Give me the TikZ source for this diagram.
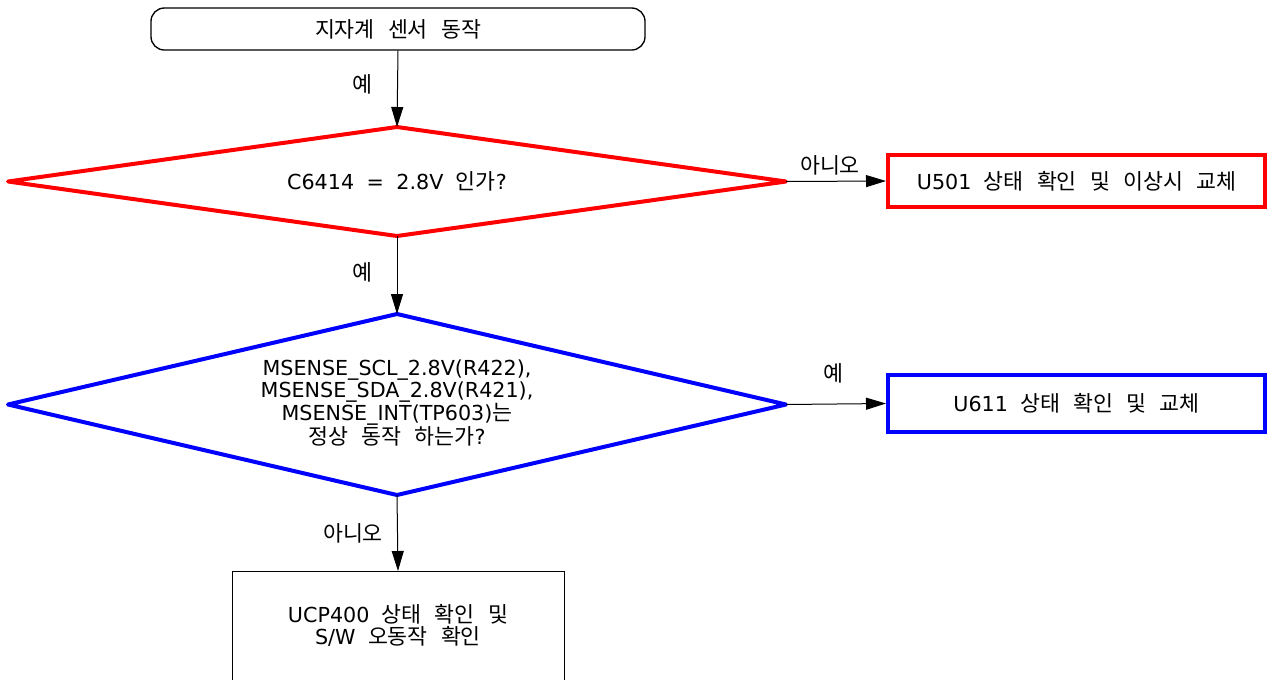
\documentclass[tikz,border=0pt]{standalone}
\usepackage{fontspec}
\setmainfont{DejaVu Sans}[WordSpace=1.9]
\newfontfamily\krfont{Noto Sans CJK KR}[Scale=1.05,WordSpace=2.7]
\usetikzlibrary{arrows.meta}
\definecolor{redline}{RGB}{255,0,0}
\definecolor{blueline}{RGB}{0,0,255}
\begin{document}
\begin{tikzpicture}[x=0.75pt,y=-0.75pt,
  every node/.style={font=\fontsize{15.5}{16.5}\selectfont, text=black, align=center},
  term/.style={draw, line width=1pt, rounded corners=10pt, minimum width=370.5pt, minimum height=31.5pt, inner sep=0},
  diaedge/.style={line width=3pt, line join=round},
  procbox/.style={draw, line width=3pt, minimum width=282.75pt, inner sep=0},
  plainbox/.style={draw, line width=0.75pt, minimum width=249pt, minimum height=90pt, inner sep=0},
  arr/.style={line width=0.75pt, -{Triangle[length=15pt,width=9pt]}},
  lbl/.style={inner sep=0, font=\fontsize{15.5}{16.5}\krfont}
]
\useasboundingbox (0,0) rectangle (1268,679);
\clip (0,0) rectangle (1268,679);

% start terminal
\node[term] (start) at (398,29) {\krfont 지자계 센서 동작};

% red decision
\coordinate (d1n) at (397,127);
\coordinate (d1e) at (786,181.5);
\coordinate (d1s) at (397,236);
\coordinate (d1w) at (8,181.5);
\draw[diaedge, draw=redline] (d1n) -- (d1e) -- (d1s) -- (d1w) -- cycle;
\node (d1) at (397,181.5) {C6414 = 2.8V {\krfont 인가}?};

\node[procbox, draw=redline, minimum height=39pt] (u501) at (1076.5,181) {U501 {\krfont 상태 확인 및 이상시 교체}};

% blue decision
\coordinate (d2n) at (397,314);
\coordinate (d2e) at (786,404.5);
\coordinate (d2s) at (397,495);
\coordinate (d2w) at (8,404.5);
\draw[diaedge, draw=blueline] (d2n) -- (d2e) -- (d2s) -- (d2w) -- cycle;
\node (d2) at (397,403) {MSENSE\_SCL\_2.8V(R422),\\MSENSE\_SDA\_2.8V(R421),\\MSENSE\_INT(TP603){\krfont 는}\\{\krfont 정상 동작 하는가}?};

\node[procbox, draw=blueline, minimum height=42.75pt] (u611) at (1076.5,403.5) {U611 {\krfont 상태 확인 및 교체}};

% bottom box
\node[plainbox, anchor=north] (ucp) at (398,571) {};
\node (ucptext) at (398,625) {UCP400 {\krfont 상태 확인 및}\\S/W {\krfont 오동작 확인}};

% connectors
\draw[arr] (start.south) -- (d1n);
\draw[arr] (d1e) -- (u501.west);
\draw[arr] (d1s) -- (d2n);
\draw[arr] (d2e) -- (u611.west);
\draw[arr] (d2s) -- (ucp.north);

% labels
\node[lbl] (l1) at (362,84) {예};
\node[lbl] (l2) at (830,165) {아니오};
\node[lbl] (l3) at (362,272) {예};
\node[lbl] (l4) at (833,373) {예};
\node[lbl] (l5) at (353,533) {아니오};
\end{tikzpicture}
\end{document}
